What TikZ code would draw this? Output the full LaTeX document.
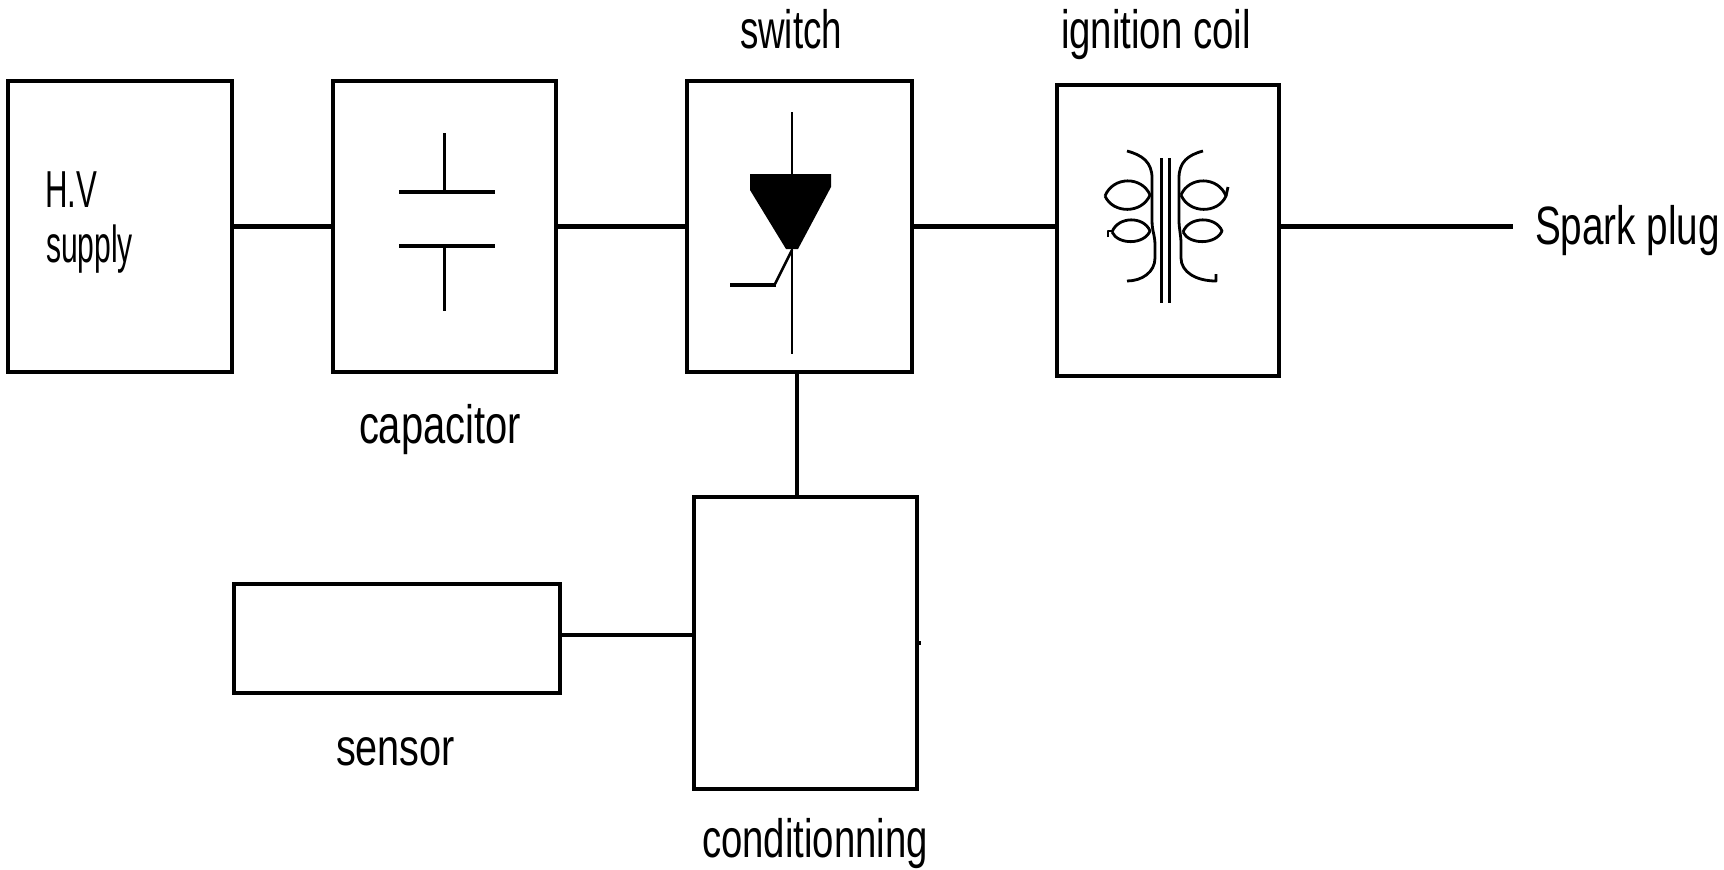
\documentclass[tikz,border=0pt]{standalone}
\usepackage{fontspec}
\usepackage{graphicx}
\setmainfont{Liberation Sans}
\newcommand{\lbl}[3]{\fontsize{#1}{#1}\selectfont\resizebox{#2pt}{\height}{#3}}
\tikzset{
  block/.style={draw=black,line width=4pt,fill=white,inner sep=0pt,outer sep=0pt},
  wire/.style={draw=black,line width=4.4pt},
  thinwire/.style={draw=black,line width=3.2pt},
  sym/.style={draw=black,line width=3pt},
  coilline/.style={draw=black,line width=2.8pt,line join=round},
  txt/.style={anchor=base west,inner sep=0pt,outer sep=0pt,text=black}
}
\begin{document}
\begin{tikzpicture}[x=1pt,y=-1pt]
\useasboundingbox (0,0) rectangle (1724,870);
% blocks
\node[block,minimum width=224pt,minimum height=291pt] (hv)   at (120,226.5) {};
\node[block,minimum width=223pt,minimum height=291pt] (cap)  at (444.5,226.5) {};
\node[block,minimum width=225pt,minimum height=291pt] (sw)   at (799.5,226.5) {};
\node[block,minimum width=222pt,minimum height=291pt] (coil) at (1168,230.5) {};
\node[block,minimum width=223pt,minimum height=292pt] (cond) at (805.5,643) {};
\node[block,minimum width=326pt,minimum height=109pt] (sens) at (397,638.5) {};
\coordinate (plug) at (1513,226.5);
% connectors
\draw[wire] (hv.east) -- (cap.west);
\draw[wire] (cap.east) -- (sw.west);
\draw[wire] (sw.east) -- ([yshift=4pt]coil.west);
\draw[wire] ([yshift=4pt]coil.east) -- (plug);
\draw[thinwire] ([xshift=-2.5pt]sw.south) -- ([xshift=-8.5pt]cond.north);
\draw[thinwire] ([yshift=3.5pt]sens.east) -- ([yshift=8pt]cond.west);
\draw[thinwire] (cond.east) -- ++(4,0);
% capacitor symbol
\draw[sym] (444,133) -- (444,192);
\draw[sym,line width=3.6pt] (399,192) -- (495,192);
\draw[sym,line width=3.6pt] (399,246) -- (495,246);
\draw[sym] (444,246) -- (444,311);
% thyristor symbol
\draw[sym,line width=2.4pt] (792,112) -- (792,354);
\fill[black] (750,174) -- (831,174) -- (831,187) -- (798,249) -- (786,249) -- (750,190) -- cycle;
\draw[sym,line width=2.6pt] (792,250) -- (775,284);
\draw[sym,line width=3.4pt] (730,285) -- (776,285);
% transformer symbol
\draw[sym] (1161,158) -- (1161,303);
\draw[sym] (1169,158) -- (1169,303);
\draw[coilline] (1127,151) .. controls (1142,155) and (1152,162) .. (1152,178) -- (1152,220) .. controls (1152,232) and (1155,234) .. (1155,246) -- (1155,258) .. controls (1155,272) and (1142,281) .. (1127,281);
\draw[coilline] (1203,151) .. controls (1188,155) and (1179,162) .. (1179,178) -- (1179,220) .. controls (1179,230) and (1181,234) .. (1181,244) -- (1181,258) .. controls (1181,272) and (1196,281) .. (1216,281) -- (1216,274);
\draw[coilline] (1105,196) .. controls (1113,176) and (1142,176) .. (1150,195) .. controls (1142,214) and (1113,214) .. (1105,196);
\draw[coilline] (1181,195) .. controls (1189,176) and (1218,176) .. (1226,196) .. controls (1218,214) and (1189,214) .. (1181,195);
\draw[coilline] (1226,196) -- (1228,187);
\draw[coilline] (1112,232) .. controls (1118,216) and (1144,216) .. (1150,231) .. controls (1144,245) and (1118,245) .. (1112,232);
\draw[coilline] (1183,232) .. controls (1189,216) and (1216,216) .. (1222,231) .. controls (1216,245) and (1189,245) .. (1183,232);
\draw[coilline] (1108,237) -- (1108,231) -- (1113,231);
% labels
\node[txt] (tswitch) at (740,48)  {\lbl{54}{102}{switch}};
\node[txt] (tcoil)   at (1061,48) {\lbl{54}{190}{ignition coil}};
\node[txt] (tcap)    at (359,443) {\lbl{54}{162}{capacitor}};
\node[txt] (tsens)   at (336,765) {\lbl{52}{119}{sensor}};
\node[txt] (tcond)   at (702,857) {\lbl{54}{226}{conditionning}};
\node[txt] (tplug)   at (1535,244) {\lbl{54}{185}{Spark plug}};
\node[txt] (thv)     at (45,207)  {\lbl{52}{52}{H.V}};
\node[txt] (tsup)    at (46,262)  {\lbl{52}{87}{supply}};
\end{tikzpicture}
\end{document}
